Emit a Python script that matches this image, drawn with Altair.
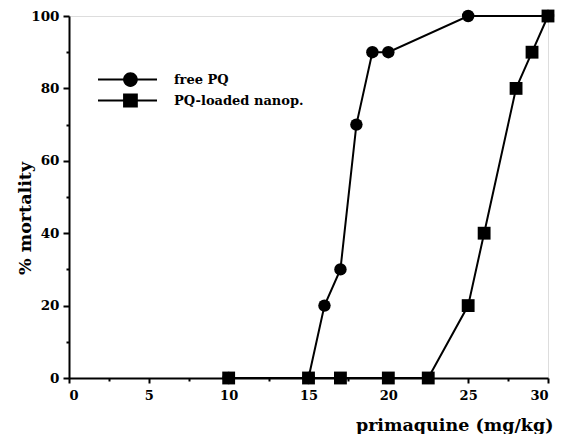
import altair as alt
import pandas as pd

series_names = ["free PQ", "PQ-loaded nanop."]
free_dose = [10, 15, 16, 17, 18, 19, 20, 25, 30]
free_mort = [0, 0, 20, 30, 70, 90, 90, 100, 100]
nano_dose = [10, 15, 17, 20, 22.5, 25, 26, 28, 29, 30]
nano_mort = [0, 0, 0, 0, 0, 20, 40, 80, 90, 100]

x_major = [0, 5, 10, 15, 20, 25, 30]
x_minor = [2.5, 7.5, 12.5, 17.5, 22.5, 27.5]
y_major = [0, 20, 40, 60, 80, 100]
y_minor = [10, 30, 50, 70, 90]

rows = []
for d, m in zip(free_dose, free_mort):
    rows.append({"dose": d, "mort": m, "series": series_names[0]})
for d, m in zip(nano_dose, nano_mort):
    rows.append({"dose": d, "mort": m, "series": series_names[1]})
df = pd.DataFrame(rows)

FONT = "DejaVu Serif"
xs = alt.Scale(domain=[0, 30], nice=False, zero=False)
ys = alt.Scale(domain=[0, 100], nice=False)

x_axis = alt.Axis(values=x_major, tickSize=5, tickWidth=2, domainWidth=2, domainColor="black",
                  tickColor="black", labelFont=FONT, labelFontWeight="bold", labelFontSize=13,
                  labelColor="black", labelPadding=6, grid=False, format="d",
                  title="primaquine (mg/kg)", titleFont=FONT, titleFontSize=17.5, titleFontWeight="bold",
                  titleColor="black", titleAnchor="end", titleAlign="right", titleX=484, titleY=52,
                  titleBaseline="alphabetic", orient="bottom")
y_axis = alt.Axis(values=y_major, tickSize=6, tickWidth=2, domainWidth=2, domainColor="black",
                  tickColor="black", labelFont=FONT, labelFontWeight="bold", labelFontSize=13.5,
                  labelColor="black", labelPadding=4, grid=False,
                  title="% mortality", titleFont=FONT, titleFontSize=17.5, titleFontWeight="bold",
                  titleColor="black", titleX=-44, titleY=202, titleAngle=-90, titleAlign="center",
                  titleBaseline="middle", orient="left")
x_minor_axis = alt.Axis(values=x_minor, tickSize=3, tickWidth=2, tickColor="black", labels=False,
                        domain=False, grid=False, title=None, orient="bottom")
y_minor_axis = alt.Axis(values=y_minor, tickSize=3, tickWidth=2, tickColor="black", labels=False,
                        domain=False, grid=False, title=None, orient="left")

base = alt.Chart(df)

lines = base.mark_line(color="black", strokeWidth=2).encode(
    x=alt.X("dose:Q", scale=xs, axis=x_axis),
    y=alt.Y("mort:Q", scale=ys, axis=y_axis),
    detail="series:N",
    order="dose:Q",
)

circles = base.transform_filter(alt.datum.series == series_names[0]).mark_point(
    filled=True, color="black", opacity=1, size=155, shape="circle").encode(
    x=alt.X("dose:Q", scale=xs, axis=x_minor_axis),
    y=alt.Y("mort:Q", scale=ys, axis=y_minor_axis),
)

squares = base.transform_filter(alt.datum.series == series_names[1]).mark_point(
    filled=True, color="black", opacity=1, size=165, shape="square").encode(
    x=alt.X("dose:Q", scale=xs, axis=None),
    y=alt.Y("mort:Q", scale=ys, axis=None),
)

# legend symbols: a line segment with the marker on it (unit box -1..1)
legend_paths = [
    "M-1,-0.034H1V0.034H-1ZM0.35,0A0.25,0.25,0,1,1,-0.15,0A0.25,0.25,0,1,1,0.35,0Z",
    "M-1,-0.034H1V0.034H-1ZM-0.15,-0.24H0.35V0.24H-0.15Z",
]
legend_tops = [34, 55]


def legend_layer(i):
    return base.transform_filter(alt.datum.series == series_names[i]).mark_point(
        filled=True, color="black", opacity=0).encode(
        x=alt.X("dose:Q", scale=xs, axis=None),
        y=alt.Y("mort:Q", scale=ys, axis=None),
        shape=alt.Shape("series:N", scale=alt.Scale(domain=[series_names[i]], range=[legend_paths[i]]),
                        legend=alt.Legend(title=None, orient="none", legendX=29, legendY=legend_tops[i],
                                          symbolSize=3481, symbolOpacity=1, symbolFillColor="black",
                                          symbolStrokeWidth=0,
                                          labelFont=FONT, labelFontWeight="bold", labelFontSize=13,
                                          labelColor="black", labelOffset=17, padding=0)),
    )


chart = alt.layer(lines, circles, squares, legend_layer(0), legend_layer(1)).resolve_scale(
    shape="independent"
).resolve_axis(
    x="independent", y="independent"
).properties(
    width=479, height=362,
    autosize=alt.AutoSizeParams(type="none"),
    padding={"left": 61, "top": 8, "right": 9, "bottom": 56},
).configure_view(stroke="black", strokeWidth=2).configure(background="white")

chart.save("out.html", embed_options={"renderer": "svg", "actions": False})
